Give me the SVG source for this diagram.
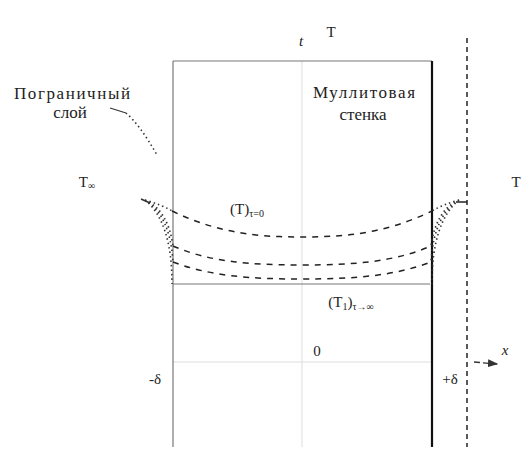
<svg xmlns="http://www.w3.org/2000/svg" width="527" height="457" viewBox="0 0 527 457">
<defs>
<style>
.t{font-family:"Liberation Serif","DejaVu Serif",serif;font-size:15px;fill:#222}
.big{font-size:17px}
.i{font-style:italic}
.thin{stroke:#777;stroke-width:1.2;fill:none}
.faint{stroke:#ddd;stroke-width:1;fill:none}
.wall{stroke:#111;stroke-width:2.2;fill:none}
.dash{stroke:#222;stroke-width:1.5;fill:none;stroke-dasharray:6 6}
.dot{stroke:#333;stroke-width:1.6;fill:none;stroke-dasharray:1.5 3}
</style>
<marker id="ar" markerWidth="8" markerHeight="6" refX="7" refY="3" orient="auto"><path d="M0,0 L8,3 L0,6 z" fill="#333"/></marker>
</defs>
<rect width="527" height="457" fill="#fff"/>
<g id="frame">
<line class="faint" x1="302" y1="61" x2="302" y2="447"/>
<line class="faint" x1="173" y1="362" x2="432" y2="362"/>
<line class="thin" x1="173" y1="61" x2="173" y2="447"/>
<line class="thin" x1="173" y1="61" x2="432" y2="61"/>
<line class="wall" x1="432" y1="61" x2="432" y2="447"/>
<line class="thin" x1="173" y1="284" x2="430" y2="284"/>
<line x1="467" y1="38" x2="467" y2="447" stroke="#222" stroke-width="1.5" stroke-dasharray="5 4"/>
<line x1="456" y1="202" x2="467" y2="202" stroke="#222" stroke-width="1.5"/>
</g>
<g id="connectors">
<path class="dash" d="M172,211 C220,234 260,237 302,237 C344,237 384,234 432,211"/>
<path class="dash" d="M173,246 C210,262 250,265 302,265 C354,265 394,262 431,246"/>
<path class="dash" d="M173,262 C210,276 250,279 302,279 C354,279 394,276 431,262"/>
<path class="dot" d="M145,200 Q160,204 172,211 M145,200 Q168,210 173,246 M145,200 Q170,215 173,262 M145,200 Q172,222 172,284"/>
<path class="dot" d="M459,200 Q444,204 432,211 M459,200 Q436,210 431,246 M459,200 Q434,215 431,262 M459,200 Q432,222 432,284"/>
<path d="M141,199 L150,203" stroke="#333" stroke-width="1.6"/>
<path d="M110,108 L126,113" stroke="#333" stroke-width="1.2" fill="none"/>
<path class="dot" d="M126,113 Q140,125 157,155"/>
<line x1="474" y1="362" x2="497" y2="364" stroke="#333" stroke-width="1.3" stroke-dasharray="6 3" marker-end="url(#ar)"/>
</g>
<g id="labels">
<text class="t big" x="72" y="99" text-anchor="middle" textLength="116">Пограничный</text>
<text class="t big" x="70" y="118" text-anchor="middle">слой</text>
<text class="t big" x="364" y="98" text-anchor="middle" textLength="102">Муллитовая</text>
<text class="t big" x="363" y="120" text-anchor="middle">стенка</text>
<text class="t i" x="301" y="46" text-anchor="middle">t</text>
<text class="t" x="331" y="37" text-anchor="middle">T</text>
<text class="t" x="87" y="187" text-anchor="middle">T<tspan font-size="10" dy="2">∞</tspan></text>
<text class="t" x="516" y="187" text-anchor="middle">T</text>
<text class="t" x="247" y="214" text-anchor="middle">(T)<tspan font-size="10" dy="3">τ=0</tspan></text>
<text class="t" x="351" y="307" text-anchor="middle">(T<tspan font-size="10" dy="3">1</tspan><tspan dy="-3">)</tspan><tspan font-size="10" dy="3">τ→∞</tspan></text>
<text class="t" x="317" y="356" text-anchor="middle">0</text>
<text class="t" x="155" y="384" text-anchor="middle">-δ</text>
<text class="t" x="450" y="384" text-anchor="middle">+δ</text>
<text class="t i" x="505" y="355" text-anchor="middle">x</text>
</g>
</svg>
